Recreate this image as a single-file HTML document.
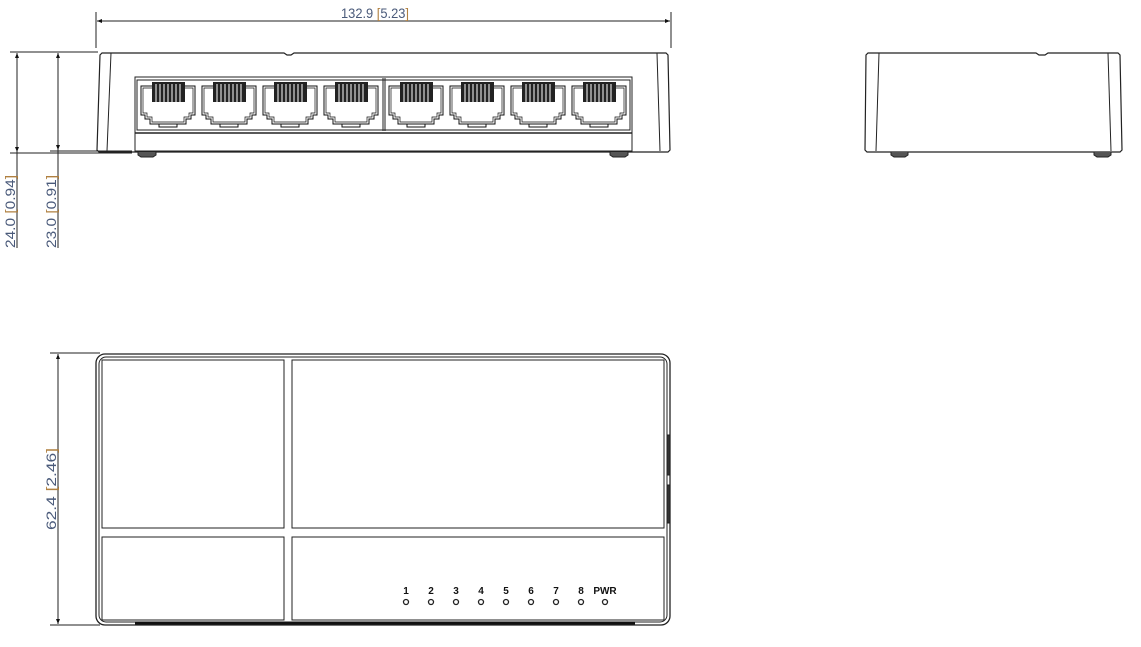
<!DOCTYPE html>
<html><head><meta charset="utf-8"><style>
html,body{margin:0;padding:0;background:#fff;}
svg{display:block;}
text{font-family:"Liberation Sans",sans-serif;}
</style></head><body>
<svg width="1141" height="647" viewBox="0 0 1141 647" xmlns="http://www.w3.org/2000/svg">
<defs>
<g id="port" fill="none" stroke="#111" stroke-width="1">
  <path d="M0,4 H54 V33 H50 V37 H45 V42 H9 V37 H4 V33 H0 Z"/>
  <path d="M2,6 H52 V31 H48 V35 H43 V40 H11 V35 H6 V31 H2 Z" stroke-width="0.7"/>
  <rect x="11" y="0" width="33" height="20" fill="#222" stroke="none"/>
  <g stroke="#fff" stroke-width="1">
    <line x1="15" y1="2" x2="15" y2="20"/><line x1="19" y1="2" x2="19" y2="20"/>
    <line x1="23" y1="2" x2="23" y2="20"/><line x1="27" y1="2" x2="27" y2="20"/>
    <line x1="31" y1="2" x2="31" y2="20"/><line x1="35" y1="2" x2="35" y2="20"/>
    <line x1="39" y1="2" x2="39" y2="20"/>
  </g>
  <rect x="18" y="42" width="18" height="3"/>
</g>
<marker id="a" viewBox="0 0 10 10" refX="10" refY="5" markerWidth="9" markerHeight="5" orient="auto-start-reverse"><path d="M0,1 L10,5 L0,9 Z" fill="#111"/></marker>
</defs>
<g stroke="#222" fill="none" stroke-width="1">
<line x1="96" y1="12" x2="96" y2="48"/><line x1="671" y1="12" x2="671" y2="48"/>
<line x1="97" y1="21" x2="670" y2="21" marker-start="url(#a)" marker-end="url(#a)"/>
<line x1="10" y1="52" x2="98" y2="52"/>
<line x1="10" y1="153" x2="132" y2="153"/>
<line x1="50" y1="151" x2="132" y2="151"/>
<line x1="17" y1="53" x2="17" y2="152" marker-start="url(#a)" marker-end="url(#a)"/>
<line x1="17" y1="152" x2="17" y2="248"/>
<line x1="58" y1="53" x2="58" y2="150" marker-start="url(#a)" marker-end="url(#a)"/>
<line x1="58" y1="150" x2="58" y2="248"/>
<path d="M102,53 H284 L287,55 H291 L294,53 H666 L668,55 L670,150 L668,152 H99 L97,150 L100,55 Z" stroke-width="1.2"/>
<line x1="111" y1="53" x2="107" y2="151"/>
<line x1="657" y1="53" x2="660" y2="151"/>
<rect x="135" y="77" width="497" height="74"/>
<rect x="137" y="80" width="493" height="50"/>
<line x1="135" y1="133" x2="632" y2="133" stroke-width="1.5"/>
<line x1="383" y1="78" x2="383" y2="131"/><line x1="385" y1="78" x2="385" y2="131"/>
<path d="M138,152 V155 L141,157 H153 L156,155 V152" fill="#555"/>
<path d="M610,152 V155 L613,157 H625 L628,155 V152" fill="#555"/>
<path d="M868,53 H1036 L1039,55 H1045 L1048,53 H1118 L1120,55 L1122,150 L1120,152 H867 L865,150 L866,55 Z" stroke-width="1.2"/>
<line x1="879" y1="53" x2="876" y2="151"/>
<line x1="1108" y1="53" x2="1111" y2="151"/>
<path d="M891,152 V155 L894,157 H905 L908,155 V152" fill="#555"/>
<path d="M1094,152 V155 L1097,157 H1108 L1111,155 V152" fill="#555"/>
<line x1="50" y1="353" x2="100" y2="353"/><line x1="50" y1="625" x2="100" y2="625"/>
<line x1="58" y1="354" x2="58" y2="624" marker-start="url(#a)" marker-end="url(#a)"/>
<rect x="96" y="354" width="574" height="271" rx="9" stroke-width="1.3"/>
<rect x="99" y="357" width="568" height="265" rx="7"/>
<rect x="102" y="360" width="182" height="168"/>
<rect x="292" y="360" width="372" height="168"/>
<rect x="102" y="537" width="182" height="83"/>
<rect x="292" y="537" width="372" height="83"/>
<line x1="135" y1="623" x2="635" y2="623" stroke-width="3" stroke="#111"/>
<rect x="667" y="435" width="3" height="40" fill="#333"/>
<rect x="667" y="485" width="3" height="38" fill="#333"/>
<g stroke-width="1.3">
<circle cx="406" cy="602" r="2.5"/><circle cx="431" cy="602" r="2.5"/><circle cx="456" cy="602" r="2.5"/>
<circle cx="481" cy="602" r="2.5"/><circle cx="506" cy="602" r="2.5"/><circle cx="531" cy="602" r="2.5"/>
<circle cx="556" cy="602" r="2.5"/><circle cx="581" cy="602" r="2.5"/><circle cx="605" cy="602" r="2.5"/>
</g>
</g>
<use href="#port" x="141" y="82"/><use href="#port" x="202" y="82"/>
<use href="#port" x="263" y="82"/><use href="#port" x="324" y="82"/>
<use href="#port" x="389" y="82"/><use href="#port" x="450" y="82"/>
<use href="#port" x="511" y="82"/><use href="#port" x="572" y="82"/>
<g font-size="10" font-weight="bold" fill="#111" text-anchor="middle">
<text x="406" y="594">1</text><text x="431" y="594">2</text><text x="456" y="594">3</text>
<text x="481" y="594">4</text><text x="506" y="594">5</text><text x="531" y="594">6</text>
<text x="556" y="594">7</text><text x="581" y="594">8</text><text x="605" y="594">PWR</text>
</g>
<g font-size="14" fill="#4a5a7a">
<text x="341" y="18" textLength="68" lengthAdjust="spacingAndGlyphs">132.9  <tspan fill="#b08040">[</tspan>5.23<tspan fill="#b08040">]</tspan></text>
<text transform="translate(15,248) rotate(-90)" textLength="73" lengthAdjust="spacingAndGlyphs">24.0  <tspan fill="#b08040">[</tspan>0.94<tspan fill="#b08040">]</tspan></text>
<text transform="translate(56,248) rotate(-90)" textLength="73" lengthAdjust="spacingAndGlyphs">23.0  <tspan fill="#b08040">[</tspan>0.91<tspan fill="#b08040">]</tspan></text>
<text transform="translate(56,530) rotate(-90)" textLength="82" lengthAdjust="spacingAndGlyphs">62.4  <tspan fill="#b08040">[</tspan>2.46<tspan fill="#b08040">]</tspan></text>
</g>
</svg>
</body></html>
